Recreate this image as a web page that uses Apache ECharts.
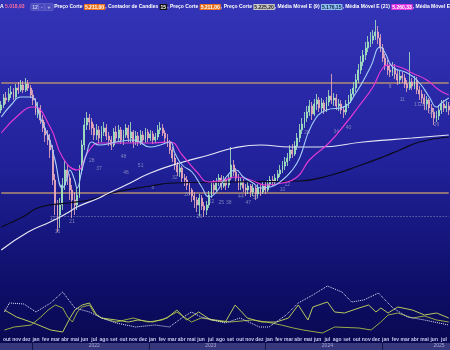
<!DOCTYPE html>
<html><head><meta charset="utf-8">
<script src="https://cdn.jsdelivr.net/npm/echarts@6/dist/echarts.min.js"></script>
<style>html,body{margin:0;padding:0;background:#1a1a80}#c{width:450px;height:350px}</style>
</head><body><div id="c"></div>
<script>
// weekly candles, 4 per month, Oct 2021 .. Jul 2025 ; [open, close, low, high]
const ohlc = [
[5200,5250,5170,5290],[5250,5320,5220,5360],[5320,5300,5260,5380],[5300,5360,5280,5420],
[5360,5380,5320,5440],[5380,5330,5300,5420],[5330,5420,5310,5460],[5420,5400,5360,5480],
[5400,5450,5380,5500],[5450,5400,5370,5490],[5400,5460,5380,5520],[5460,5420,5390,5500],
[5420,5350,5320,5450],[5350,5300,5250,5400],[5300,5180,5150,5320],[5180,5220,5120,5280],
[5220,5100,5060,5250],[5100,5020,4980,5150],[5020,4950,4880,5080],[4950,4900,4850,5000],
[4900,4800,4720,4960],[4800,4500,4450,4850],[4500,4250,4150,4560],[4250,4150,3980,4300],
[4150,4250,4020,4320],[4250,4450,4200,4520],[4450,4600,4400,4700],[4600,4520,4450,4660],
[4520,4400,4300,4560],[4400,4300,4120,4450],[4300,4250,4150,4380],[4250,4350,4200,4420],
[4350,4600,4320,4650],[4600,4850,4560,4900],[4850,5050,4800,5120],[5050,5120,5000,5180],
[5120,5080,5000,5160],[5080,5020,4950,5120],[5020,4950,4900,5060],[4950,5000,4900,5060],
[5000,4920,4870,5040],[4920,4980,4880,5040],[4980,5020,4940,5080],[5020,4940,4900,5060],
[4940,4900,4840,4980],[4900,4850,4800,4940],[4850,4980,4830,5020],[4980,4920,4880,5040],
[4920,5000,4890,5050],[5000,4900,4860,5030],[4900,4950,4850,5000],[4950,5020,4920,5060],
[5020,4920,4880,5050],[4920,4980,4870,5080],[4980,4880,4820,5000],[4880,4940,4850,4990],
[4940,4880,4840,4980],[4880,4950,4850,5000],[4950,4900,4860,4990],[4900,4980,4870,5020],
[4980,4920,4880,5010],[4920,4960,4890,5000],[4960,4900,4860,4990],[4900,4930,4870,4970],
[4930,5000,4900,5050],[5000,5020,4960,5080],[5020,4970,4940,5060],[4970,4920,4880,5000],
[4920,4880,4830,4960],[4880,4800,4760,4900],[4800,4720,4680,4830],[4720,4650,4600,4760],
[4650,4580,4540,4680],[4580,4620,4530,4660],[4620,4520,4480,4640],[4520,4500,4440,4560],
[4500,4450,4400,4540],[4450,4400,4350,4480],[4400,4340,4280,4420],[4340,4300,4220,4380],
[4300,4250,4180,4330],[4250,4320,4140,4360],[4320,4240,4200,4350],[4240,4200,4130,4280],
[4200,4250,4150,4290],[4250,4350,4220,4390],[4350,4450,4320,4480],[4450,4400,4360,4500],
[4400,4480,4380,4520],[4480,4520,4440,4560],[4520,4440,4400,4550],[4440,4500,4420,4540],
[4500,4450,4400,4530],[4450,4520,4420,4560],[4520,4650,4500,4830],[4650,4580,4540,4700],
[4580,4520,4480,4620],[4520,4450,4400,4560],[4450,4480,4400,4520],[4480,4420,4380,4510],
[4420,4400,4340,4460],[4400,4440,4360,4480],[4440,4380,4330,4460],[4380,4420,4340,4460],
[4420,4360,4300,4440],[4360,4420,4320,4460],[4420,4380,4340,4450],[4380,4440,4360,4480],
[4440,4400,4360,4480],[4400,4460,4380,4500],[4460,4500,4430,4540],[4500,4480,4440,4540],
[4480,4520,4450,4560],[4520,4560,4490,4600],[4560,4600,4530,4650],[4600,4640,4570,4690],
[4640,4680,4600,4730],[4680,4720,4640,4770],[4720,4800,4690,4850],[4800,4760,4720,4860],
[4760,4840,4740,4890],[4840,4920,4800,4970],[4920,5000,4880,5060],[5000,5060,4960,5120],
[5060,5120,5020,5180],[5120,5180,5080,5240],[5180,5240,5140,5300],[5240,5160,5100,5280],
[5160,5260,5140,5310],[5260,5300,5200,5360],[5300,5220,5180,5330],[5220,5270,5180,5320],
[5270,5200,5160,5300],[5200,5280,5180,5330],[5280,5340,5240,5400],[5340,5300,5260,5560],
[5300,5320,5240,5370],[5320,5240,5200,5360],[5240,5260,5190,5310],[5260,5200,5160,5300],
[5200,5180,5120,5240],[5180,5260,5150,5300],[5260,5300,5220,5350],[5300,5360,5270,5410],
[5360,5420,5330,5480],[5420,5500,5380,5560],[5500,5600,5470,5660],[5600,5680,5560,5740],
[5680,5750,5640,5800],[5750,5820,5700,5880],[5820,5880,5780,5940],[5880,5900,5830,5980],
[5900,5940,5860,6000],[5940,5980,5900,6100],[5980,5920,5860,6040],[5920,5820,5780,5960],
[5820,5720,5680,5860],[5720,5640,5600,5760],[5640,5600,5550,5700],[5600,5580,5530,5650],
[5580,5620,5540,5680],[5620,5560,5510,5660],[5560,5500,5450,5600],[5500,5540,5460,5590],
[5540,5520,5470,5580],[5520,5460,5420,5560],[5460,5420,5380,5500],[5420,5480,5400,5780],
[5480,5440,5400,5520],[5440,5500,5410,5540],[5500,5400,5360,5530],[5400,5360,5300,5440],
[5360,5320,5270,5400],[5320,5260,5200,5360],[5260,5300,5200,5340],[5300,5220,5170,5320],
[5220,5180,5120,5260],[5180,5120,5050,5220],[5120,5140,5080,5190],[5140,5200,5100,5250],
[5200,5260,5160,5300],[5260,5220,5180,5300],[5220,5240,5180,5290],[5240,5200,5150,5280]
];
// moving averages: [candle index, value]
const ema9 = [[0,5130],[4,5250],[8,5330],[12,5330],[16,5120],[20,4880],[22,4700],[25,4420],[27,4520],[28,4600],[30,4500],[31,4420],[33,4600],[35,4770],[37,4880],[40,4850],[47,4880],[54,4900],[61,4830],[65,4850],[69,4880],[71,4770],[74,4650],[78,4580],[82,4430],[85,4330],[88,4380],[92,4530],[96,4600],[99,4530],[103,4470],[106,4420],[110,4430],[115,4500],[119,4600],[122,4720],[127,5050],[133,5200],[140,5230],[145,5370],[151,5630],[155,5830],[157,5770],[160,5630],[166,5570],[171,5470],[175,5330],[178,5230],[180,5270],[183,5320]];
const ema21 = [[0,4970],[8,5170],[13,5230],[20,5030],[25,4730],[31,4600],[36,4800],[40,4870],[54,4870],[61,4870],[69,4880],[74,4750],[80,4580],[85,4480],[91,4500],[96,4530],[102,4500],[108,4450],[115,4470],[121,4530],[126,4700],[134,4870],[141,5070],[146,5230],[152,5430],[156,5620],[159,5650],[164,5620],[168,5570],[174,5500],[179,5400],[183,5350]];
const ema200 = [[0,3800],[11,3980],[20,4080],[27,4170],[31,4230],[40,4320],[44,4370],[51,4450],[61,4570],[73,4670],[85,4750],[95,4820],[106,4850],[118,4830],[130,4830],[148,4880],[168,4920],[183,4950]];
const maBlack = [[0,4030],[8,4120],[16,4230],[27,4270],[36,4300],[47,4380],[61,4440],[70,4470],[95,4480],[122,4490],[135,4550],[146,4640],[156,4730],[163,4800],[171,4880],[183,4930]];
const levels = [5470, 4370];
const dottedLevel = 4135;
const counts = [[21,4110,'12'],[23,3980,'15'],[29,4080,'21'],[37,4690,'28'],[40,4610,'37'],[50,4730,'48'],[51,4570,'46'],[57,4640,'51'],[62,4420,'8'],[71,4520,'32'],[76,4350,'28'],[81,4130,'26'],[86,4280,'22'],[90,4270,'25'],[93,4270,'38'],[98,4330,'44'],[101,4270,'47'],[104,4320,'50'],[115,4400,'10'],[117,4450,'12'],[125,4970,'28'],[137,4980,'34'],[142,5020,'40'],[159,5430,'6'],[164,5300,'11'],[170,5250,'17'],[172,5250,'20'],[176,5170,'23'],[178,5050,'26']];
// lower panel indicator lines: [candle index, value]
const oscDotted = [[0,23],[2,32],[8,31],[13,23],[19,32],[24,43],[29,27],[35,23],[40,17],[46,12],[54,8],[62,10],[68,8],[73,17],[77,23],[81,18],[86,15],[91,12],[97,17],[105,8],[109,8],[116,20],[121,32],[127,40],[133,49],[139,43],[143,33],[148,35],[154,42],[160,27],[166,18],[173,15],[183,10]];
const oscA = [[0,25],[5,18],[12,12],[19,5],[24,3],[27,17],[29,25],[32,30],[35,32],[38,20],[40,17],[46,15],[51,13],[55,15],[61,13],[67,17],[71,25],[75,15],[80,23],[85,15],[91,13],[95,30],[100,17],[106,13],[112,13],[117,17],[121,30],[125,15],[127,28],[133,33],[136,23],[140,22],[146,27],[150,30],[153,23],[155,27],[158,22],[162,28],[168,25],[173,20],[178,22],[183,17]];
const oscB = [[0,5],[4,8],[11,10],[15,18],[18,25],[21,30],[24,27],[26,18],[28,13],[30,23],[32,28],[35,30],[37,22],[40,17],[46,13],[53,17],[59,13],[65,15],[71,23],[77,13],[81,17],[87,15],[93,13],[102,15],[108,13],[114,10],[119,7],[123,5],[131,2],[136,8],[146,7],[151,5],[155,13],[158,20],[162,22],[168,17],[173,19],[178,15],[183,13]];
const monthNames = ['jan','fev','mar','abr','mai','jun','jul','ago','set','out','nov','dez'];
const startYear = 2021, startMonth = 9, monthCount = 46, weeksPerMonth = 4;

const categories = [];
for (let m = 0; m < monthCount; m++) {
  const mm = (startMonth + m) % 12, yy = startYear + Math.floor((startMonth + m) / 12);
  for (let w = 0; w < weeksPerMonth; w++) categories.push(yy + '|' + mm + '|' + w);
}
const part = v => v.split('|').map(Number);

const chart = echarts.init(document.getElementById('c'), null, {renderer: 'canvas'});
const hdrFont = {fontSize: 5, fontWeight: 'bold', fontFamily: 'Liberation Sans'};
const box = (bg, fg) => Object.assign({}, hdrFont, {backgroundColor: bg, fill: fg, padding: [1, 1, 0, 1]});
const levelStyle = {color: '#b48e72', width: 1.4, type: 'solid', opacity: 1};
const levelLine = v => ({type: 'line', xAxisIndex: 0, yAxisIndex: 0, silent: true, showSymbol: false,
  data: [[0, v], [categories.length - 1, v]], lineStyle: levelStyle, z: 1});
chart.setOption({
  animation: false,
  graphic: [
    {type: 'rect', z: -100, silent: true, shape: {x: 0, y: 0, width: 450, height: 350},
     style: {fill: {type: 'linear', x: 0, y: 0, x2: 0, y2: 1, colorStops: [
       {offset: 0, color: '#3434b8'}, {offset: 0.45, color: '#22229c'}, {offset: 0.8, color: '#0f0f6c'}, {offset: 1, color: '#08084e'}]}}},
    {type: 'rect', z: -50, silent: true, shape: {x: 0, y: 343, width: 450, height: 7}, style: {fill: '#37377c'}},
    {type: 'text', left: 0, top: 1, silent: true, style: {
      text: '{w|A }{p|5.018,93}  {g|12}{g| - }{g| + }{w| Preço Corte }{o|5.211,00}{w|, Contador de Candles }{k|15}{w|, Preço Corte }{o|5.211,00}{w|, Preço Corte }{s|5.225,20}{w|, Média Móvel E (9) }{b|5.176,15}{w|, Média Móvel E (21) }{m|5.260,33}{w|, Média Móvel E (200) }',
      rich: {
        w: Object.assign({}, hdrFont, {fill: '#ffffff'}),
        p: Object.assign({}, hdrFont, {fill: '#ff6fa0'}),
        g: Object.assign({}, hdrFont, {fill: '#d0d0f0', backgroundColor: '#4a4ac0', borderColor: '#8080d0', borderWidth: 0.5, padding: [1, 1, 0, 1]}),
        o: box('#e8701c', '#ffffff'),
        k: box('#101010', '#ffffff'),
        s: box('#c8c8c8', '#202020'),
        b: box('#8cc0f0', '#102040'),
        m: box('#e030e0', '#ffffff')
      }}}
  ],
  grid: [
    {left: 0, right: 0, top: 10, height: 250},
    {left: 0, right: 0, top: 255, height: 80}
  ],
  xAxis: [
    {type: 'category', data: categories, gridIndex: 0, boundaryGap: true, show: false},
    {type: 'category', data: categories, gridIndex: 1, boundaryGap: true,
     axisLine: {show: false}, axisTick: {show: false}, splitLine: {show: false},
     axisLabel: {interval: (i, v) => part(v)[2] === 1, formatter: v => monthNames[part(v)[1]],
       color: '#c8c8ee', fontSize: 5, fontFamily: 'Liberation Sans', fontWeight: 'bold', margin: 2, hideOverlap: false}},
    {type: 'category', data: categories, gridIndex: 1, boundaryGap: true, position: 'bottom', offset: 15,
     axisLine: {show: false},
     axisTick: {show: true, inside: true, length: 7, interval: (i, v) => { const p = part(v); return p[1] === 0 && p[2] === 0; }, lineStyle: {color: '#15154a', width: 1}},
     axisLabel: {inside: true, margin: 2, interval: (i, v) => { const p = part(v); return (p[0] < 2025 && p[1] === 6 && p[2] === 1) || (p[0] === 2025 && p[1] === 5 && p[2] === 3); },
       formatter: v => String(part(v)[0]), color: '#a8a8d8', fontSize: 5, fontFamily: 'Liberation Sans'}}
  ],
  yAxis: [
    {type: 'value', gridIndex: 0, min: 3700, max: 6200, show: false},
    {type: 'value', gridIndex: 1, min: 0, max: 80, show: false}
  ],
  series: [
    levelLine(levels[0]),
    levelLine(levels[1]),
    {type: 'line', xAxisIndex: 0, yAxisIndex: 0, silent: true, showSymbol: false, z: 1,
     data: [[21, dottedLevel], [categories.length - 1, dottedLevel]], lineStyle: {type: [1, 2], color: '#8c8cbc', width: 1}},
    {type: 'candlestick', xAxisIndex: 0, yAxisIndex: 0, data: ohlc, barWidth: 1.4,
     itemStyle: {color: '#a8ecc0', color0: '#f0b0bc', borderColor: '#a8ecc0', borderColor0: '#f0b0bc', borderWidth: 0.8}},
    {type: 'line', xAxisIndex: 0, yAxisIndex: 0, data: maBlack, smooth: true, showSymbol: false, lineStyle: {color: '#0a0a1a', width: 1.2}},
    {type: 'line', xAxisIndex: 0, yAxisIndex: 0, data: ema200, smooth: true, showSymbol: false, lineStyle: {color: '#e6e6f4', width: 1.2}},
    {type: 'line', xAxisIndex: 0, yAxisIndex: 0, data: ema21, smooth: true, showSymbol: false, lineStyle: {color: '#e23ad2', width: 1.2}},
    {type: 'line', xAxisIndex: 0, yAxisIndex: 0, data: ema9, smooth: true, showSymbol: false, lineStyle: {color: '#a6cff8', width: 1.1}},
    {type: 'scatter', xAxisIndex: 0, yAxisIndex: 0, data: counts, symbolSize: 0,
     label: {show: true, formatter: p => p.data[2], color: '#9a9ac8', fontSize: 5, fontFamily: 'Liberation Sans', position: 'inside'}},
    {type: 'line', xAxisIndex: 1, yAxisIndex: 1, data: oscB, showSymbol: false, lineStyle: {color: '#98aa46', width: 1}},
    {type: 'line', xAxisIndex: 1, yAxisIndex: 1, data: oscA, showSymbol: false, lineStyle: {color: '#b6c85c', width: 1}},
    {type: 'line', xAxisIndex: 1, yAxisIndex: 1, data: oscDotted, showSymbol: false, lineStyle: {color: '#e4e4ff', width: 1, type: 'dotted'}}
  ]
});
</script></body></html>
